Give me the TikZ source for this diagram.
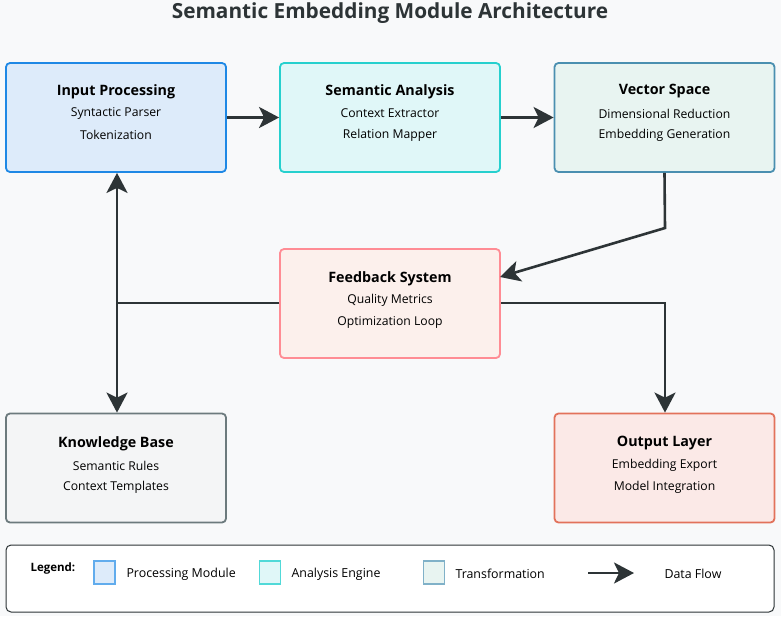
\documentclass[tikz,border=0pt]{standalone}
\usepackage{fontspec}
\setmainfont{Open Sans}
\usetikzlibrary{arrows.meta}
\definecolor{bg}{HTML}{F8F9FA}
\definecolor{ink}{HTML}{2D3436}
\definecolor{ipF}{HTML}{DDEBFA}\definecolor{ipD}{HTML}{1E88E5}
\definecolor{saF}{HTML}{E0F7F8}\definecolor{saD}{HTML}{26D0CE}
\definecolor{vsF}{HTML}{E8F4F1}\definecolor{vsD}{HTML}{4A8FB0}
\definecolor{fbF}{HTML}{FCF0EC}\definecolor{fbD}{HTML}{FF8C94}
\definecolor{kbF}{HTML}{F4F5F6}\definecolor{kbD}{HTML}{6C7A7D}
\definecolor{olF}{HTML}{FBE9E7}\definecolor{olD}{HTML}{E2725B}
\tikzset{
  mod/.style={draw, line width=1.8pt, rounded corners=4pt, minimum width=220pt, minimum height=109pt, inner sep=0pt},
  ttl/.style={font=\bfseries\fontsize{14.3}{16}\selectfont, text=black},
  sub/.style={font=\fontsize{12.2}{14}\selectfont, text=black},
  flow/.style={draw=ink, line width=2.6pt, -{Stealth[length=20pt,width=21pt,inset=5pt]}},
  plain/.style={draw=ink, line width=2.6pt},
  sw/.style={draw, line width=1.2pt, minimum width=21pt, minimum height=23pt, inner sep=0pt},
  lg/.style={font=\fontsize{12.4}{14}\selectfont, text=black, anchor=west}
}
\begin{document}
\begin{tikzpicture}[x=1pt,y=-1pt]
\fill[bg] (0,0) rectangle (781,616);
\useasboundingbox (0,0) rectangle (781,616);
\node[font=\bfseries\fontsize{20.8}{24}\selectfont, text=ink] (title) at (390,13) {Semantic Embedding Module Architecture};

\node[mod, fill=ipF, draw=ipD] (ip) at (116,117.5) {};
\node[ttl] at (116,91.5) {Input Processing};
\node[sub] at (116,113.5) {Syntactic Parser};
\node[sub] at (116,135) {Tokenization};

\node[mod, fill=saF, draw=saD] (sa) at (390,117.5) {};
\node[ttl] at (390,91.5) {Semantic Analysis};
\node[sub] at (390,113.5) {Context Extractor};
\node[sub] at (390,135) {Relation Mapper};

\node[mod, fill=vsF, draw=vsD] (vs) at (664.5,117.5) {};
\node[ttl] at (664.5,91.5) {Vector Space};
\node[sub] at (664.5,113.5) {Dimensional Reduction};
\node[sub] at (664.5,135) {Embedding Generation};

\node[mod, fill=fbF, draw=fbD] (fb) at (390,303.5) {};
\node[ttl] at (390,278.5) {Feedback System};
\node[sub] at (390,300.5) {Quality Metrics};
\node[sub] at (390,322) {Optimization Loop};

\node[mod, fill=kbF, draw=kbD] (kb) at (116,468) {};
\node[ttl] at (116,443.5) {Knowledge Base};
\node[sub] at (116,465.5) {Semantic Rules};
\node[sub] at (116,487) {Context Templates};

\node[mod, fill=olF, draw=olD] (ol) at (664.5,468) {};
\node[ttl] at (664.5,443.5) {Output Layer};
\node[sub] at (664.5,465.5) {Embedding Export};
\node[sub] at (664.5,487) {Model Integration};

% connectors
\draw[flow] (ip.east) -- (sa.west);
\draw[flow] (sa.east) -- (vs.west);
\coordinate (bend1) at (665,228);
\coordinate (hit1) at (500,277);
\draw[flow] (vs.south) -- (bend1) -- (hit1);
\coordinate (j) at (117,303);
\draw[plain] (fb.west |- j) -- (j);
\draw[flow] (j) -- (ip.south -| j);
\draw[flow] (j) -- (kb.north -| j);
\coordinate (bend2) at (665,303);
\draw[flow] (fb.east |- bend2) -- (bend2) -- (ol.north -| bend2);

% legend
\node[draw=ink, line width=1pt, rounded corners=5pt, fill=white, minimum width=768pt, minimum height=67pt, inner sep=0pt] (leg) at (390,578.5) {};
\node[font=\bfseries\fontsize{11.5}{13}\selectfont, anchor=west] (lt) at (27,569) {Legend:};
\node[sw, fill=ipF, draw=ipD!70] (s1) at (104.5,572.5) {};
\node[lg] (t1) at (123,574) {Processing Module};
\node[sw, fill=saF, draw=saD!80] (s2) at (270,572.5) {};
\node[lg] (t2) at (288,574) {Analysis Engine};
\node[sw, fill=vsF, draw=vsD!70] (s3) at (434,572.5) {};
\node[lg] (t3) at (452,574) {Transformation};
\coordinate (a1) at (588,573);
\coordinate (a2) at (634,573);
\draw[flow] (a1) -- (a2);
\node[lg] (t4) at (661,574) {Data Flow};
\end{tikzpicture}
\end{document}
